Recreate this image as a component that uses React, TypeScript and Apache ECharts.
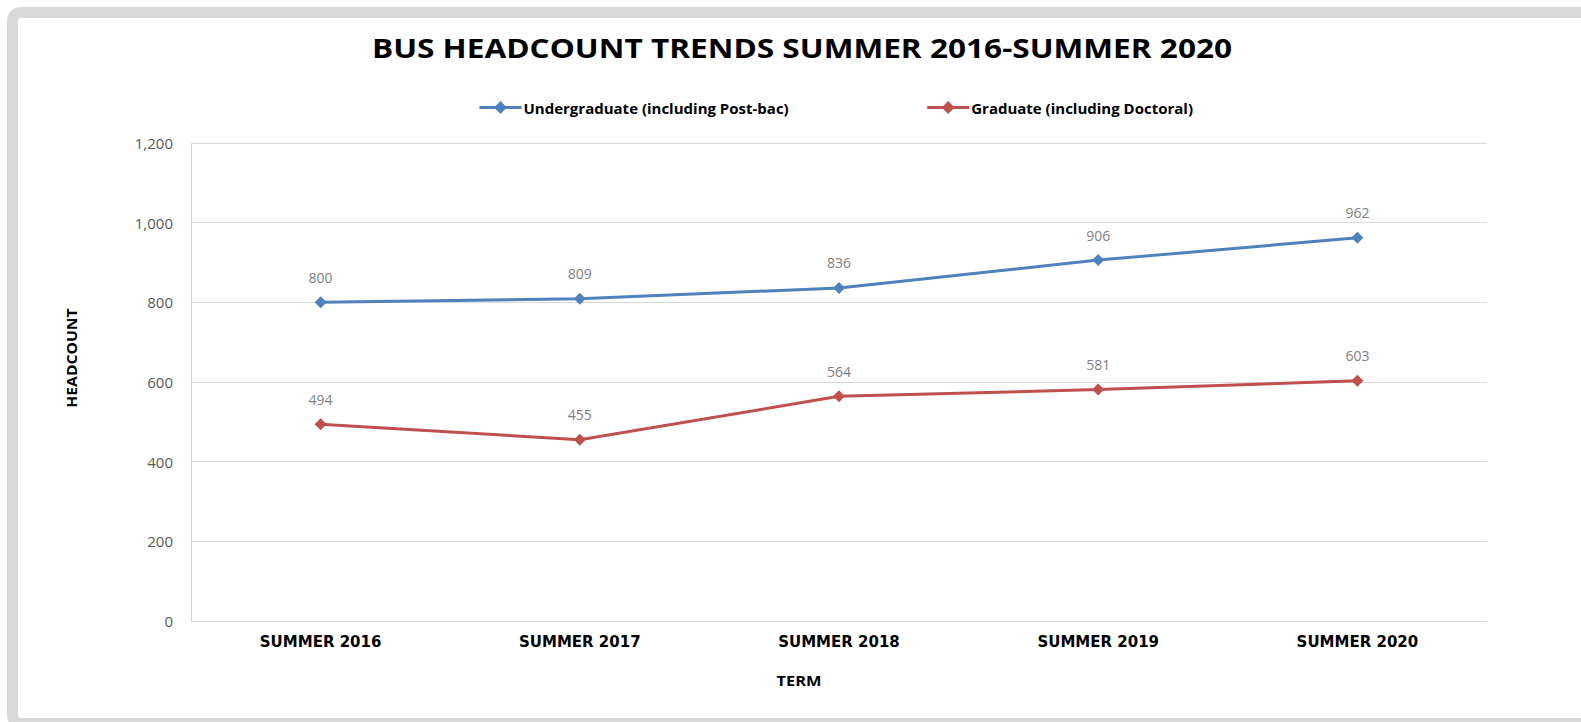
import React, { useEffect, useRef } from "react";
import * as echarts from "echarts";

const categories = ["SUMMER 2016", "SUMMER 2017", "SUMMER 2018", "SUMMER 2019", "SUMMER 2020"];
const undergrad = [800, 809, 836, 906, 962];
const graduate = [494, 455, 564, 581, 603];
const seriesNames = ["Undergraduate (including Post-bac)", "Graduate (including Doctoral)"];
const titleText = "BUS HEADCOUNT TRENDS SUMMER 2016-SUMMER 2020";
const xName = "TERM";
const yName = "HEADCOUNT";

const FONT = "'Open Sans', 'Noto Sans', sans-serif";

export default function App() {
  const ref = useRef<HTMLDivElement>(null);
  useEffect(() => {
    if (!ref.current) return;
    const chart = echarts.init(ref.current, undefined, { renderer: "svg" });
    const labelStyle = {
      show: true,
      position: "top",
      distance: 12,
      color: "#808080",
      fontSize: 14,
      fontFamily: FONT,
    };
    chart.setOption({
      animation: false,
      backgroundColor: "#ffffff",
      textStyle: { fontFamily: FONT },
      grid: { left: 191, right: 94, top: 143, bottom: 101, containLabel: false },
      legend: {
        left: 473,
        top: 95,
        itemWidth: 42,
        itemHeight: 16,
        itemGap: 137,
        lineStyle: { width: 3 },
        textStyle: {
          fontFamily: FONT,
          fontSize: 15,
          fontWeight: "bold",
          color: "#000",
          padding: [0, 0, 0, -3],
        },
        data: seriesNames,
      },
      xAxis: {
        type: "category",
        data: categories,
        boundaryGap: true,
        axisLine: { show: true, lineStyle: { color: "#d9d9d9", width: 1 } },
        axisTick: { show: false },
        axisLabel: {
          margin: 13,
          fontFamily: "'DejaVu Sans', sans-serif",
          fontSize: 15,
          fontWeight: "bold",
          color: "#000",
        },
      },
      yAxis: {
        type: "value",
        min: 0,
        max: 1200,
        interval: 200,
        axisLine: { show: true, lineStyle: { color: "#d9d9d9", width: 1 } },
        axisTick: { show: false },
        splitLine: { show: true, lineStyle: { color: "#d9d9d9", width: 1 } },
        axisLabel: {
          margin: 18,
          fontFamily: FONT,
          fontSize: 15,
          color: "#595959",
          formatter: (v: number) => v.toLocaleString("en-US"),
        },
      },
      series: [
        {
          name: seriesNames[0],
          type: "line",
          data: undergrad,
          symbol: "diamond",
          symbolSize: 12,
          itemStyle: { color: "#4f81bd" },
          lineStyle: { color: "#4f81bd", width: 3 },
          label: labelStyle,
        },
        {
          name: seriesNames[1],
          type: "line",
          data: graduate,
          symbol: "diamond",
          symbolSize: 12,
          itemStyle: { color: "#c0504d" },
          lineStyle: { color: "#c0504d", width: 3 },
          label: labelStyle,
        },
      ],
      graphic: [
        {
          type: "rect",
          z: -1,
          shape: { x: 12.5, y: 12.5, width: 1620, height: 711, r: 8 },
          style: { fill: "none", stroke: "#d9d9d9", lineWidth: 11 },
          silent: true,
        },
        {
          type: "text",
          x: 802,
          y: 48,
          scaleX: 1.17,
          style: {
            text: titleText,
            fontFamily: FONT,
            fontSize: 27,
            fontWeight: "bold",
            fill: "#000",
            align: "center",
            verticalAlign: "middle",
          },
        },
        {
          type: "text",
          x: 799,
          y: 680,
          scaleX: 1.17,
          style: {
            text: xName,
            fontFamily: FONT,
            fontSize: 14,
            fontWeight: "bold",
            fill: "#000",
            align: "center",
            verticalAlign: "middle",
          },
        },
        {
          type: "text",
          x: 71,
          y: 358,
          rotation: Math.PI / 2,
          scaleX: 1.12,
          style: {
            text: yName,
            fontFamily: FONT,
            fontSize: 14,
            fontWeight: "bold",
            fill: "#000",
            align: "center",
            verticalAlign: "middle",
          },
        },
      ],
    });
    return () => chart.dispose();
  }, []);
  return (
    <div
      ref={ref}
      style={{ position: "fixed", left: 0, top: 0, width: 1581, height: 722 }}
    />
  );
}
